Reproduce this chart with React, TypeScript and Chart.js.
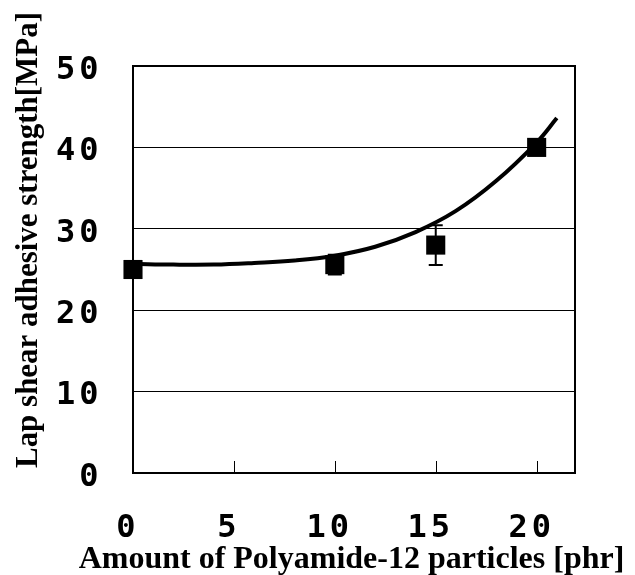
import { useEffect, useRef } from 'react';
import { Chart, registerables } from 'chart.js';

Chart.register(...registerables);

const X_VALUES = [0, 10, 15, 20];
const Y_VALUES = [25.0, 25.6, 28.0, 40.0];
const Y_ERRORS = [0.5, 1.2, 2.45, 0.8];
const CURVE_X = [0, 2, 4, 6, 8, 10, 12, 14, 16, 18, 20, 21];
const CURVE_Y = [25.7, 25.6, 25.6, 25.8, 26.1, 26.7, 27.8, 29.6, 32.2, 35.9, 40.6, 43.6];
const X_TICKS = [0, 5, 10, 15, 20];
const Y_TICKS = [0, 10, 20, 30, 40, 50];
const X_TITLE = 'Amount of Polyamide-12 particles [phr]';
const Y_TITLE = 'Lap shear adhesive strength[MPa]';

const TITLE_FONT = 'bold 32px "Liberation Serif", serif';

const framePlugin = {
  id: 'frameAndMarks',
  beforeDatasetsDraw(chart: any) {
    const { ctx, chartArea, scales } = chart;
    const xs = scales.x;
    const ys = scales.y;
    ctx.save();
    ctx.strokeStyle = '#000';
    ctx.lineWidth = 1;
    X_TICKS.forEach((v) => {
      const px = Math.round(xs.getPixelForValue(v)) + 0.5;
      ctx.beginPath();
      ctx.moveTo(px, chartArea.bottom);
      ctx.lineTo(px, chartArea.bottom - 12);
      ctx.stroke();
    });
    ctx.lineWidth = 2;
    ctx.strokeRect(chartArea.left, chartArea.top, chartArea.right - chartArea.left, chartArea.bottom - chartArea.top);
    ctx.lineWidth = 2;
    X_VALUES.forEach((xv, i) => {
      const px = xs.getPixelForValue(xv);
      const top = ys.getPixelForValue(Y_VALUES[i] + Y_ERRORS[i]);
      const bot = ys.getPixelForValue(Y_VALUES[i] - Y_ERRORS[i]);
      ctx.beginPath();
      ctx.moveTo(px, top);
      ctx.lineTo(px, bot);
      ctx.moveTo(px - 7, top);
      ctx.lineTo(px + 7, top);
      ctx.moveTo(px - 7, bot);
      ctx.lineTo(px + 7, bot);
      ctx.stroke();
    });
    ctx.restore();
  },
  afterDatasetsDraw(chart: any) {
    // tick labels (z: 1) are drawn after this hook: give them the wide spacing of the reference
    const ctx = chart.ctx;
    ctx.save();
    ctx.translate(-5, 4.5);
    (ctx as any).letterSpacing = '4px';
  },
  afterDraw(chart: any) {
    const { ctx } = chart;
    ctx.restore();
    ctx.save();
    (ctx as any).letterSpacing = '0px';
    ctx.fillStyle = '#000';
    ctx.font = TITLE_FONT;
    ctx.textBaseline = 'alphabetic';
    ctx.textAlign = 'center';
    ctx.fillText(X_TITLE, 351.5, 568);
    ctx.translate(36.7, 468);
    ctx.rotate(-Math.PI / 2);
    ctx.textAlign = 'left';
    ctx.fillText(Y_TITLE, 0, 0, 456);
    ctx.restore();
  },
};

const TICK_FONT = { family: '"DejaVu Sans Mono", monospace', size: 32, weight: 'bold' as const };

export default function App() {
  const ref = useRef<HTMLCanvasElement | null>(null);
  useEffect(() => {
    if (!ref.current) return;
    const chart = new Chart(ref.current, {
      type: 'scatter',
      data: {
        datasets: [
          {
            label: 'fit',
            data: CURVE_X.map((x, i) => ({ x, y: CURVE_Y[i] })),
            showLine: true,
            borderColor: '#000',
            borderWidth: 4,
            pointRadius: 0,
            tension: 0.4,
            clip: false,
          } as any,
          {
            label: 'measured',
            data: X_VALUES.map((x, i) => ({ x, y: Y_VALUES[i] })),
            pointStyle: 'rect',
            pointRadius: 13.5,
            backgroundColor: '#000',
            borderColor: '#000',
            borderWidth: 0,
            clip: false,
          } as any,
        ],
      },
      options: {
        animation: false,
        responsive: true,
        maintainAspectRatio: false,
        layout: { padding: { top: 66, right: 60, left: 0, bottom: 0 } },
        plugins: { legend: { display: false }, tooltip: { enabled: false } },
        scales: {
          x: {
            type: 'linear',
            min: 0,
            max: 21.9,
            afterBuildTicks: (s: any) => {
              s.ticks = X_TICKS.map((v) => ({ value: v }));
            },
            afterFit: (s: any) => {
              s.height = 102;
            },
            grid: { display: false, drawTicks: false },
            border: { display: false },
            ticks: { color: '#000', padding: 31.8, z: 1, font: TICK_FONT },
            title: { display: false },
          },
          y: {
            type: 'linear',
            min: 0,
            max: 50,
            afterBuildTicks: (s: any) => {
              s.ticks = Y_TICKS.map((v) => ({ value: v }));
            },
            afterFit: (s: any) => {
              s.width = 133;
            },
            grid: { color: '#000', lineWidth: 1, drawTicks: false },
            border: { display: false },
            ticks: { color: '#000', padding: 25.5, z: 1, font: TICK_FONT },
            title: { display: false },
          },
        },
      },
      plugins: [framePlugin],
    });
    return () => chart.destroy();
  }, []);
  return (
    <div style={{ position: 'absolute', left: 0, top: 0, width: 635, height: 575 }}>
      <canvas ref={ref} />
    </div>
  );
}
